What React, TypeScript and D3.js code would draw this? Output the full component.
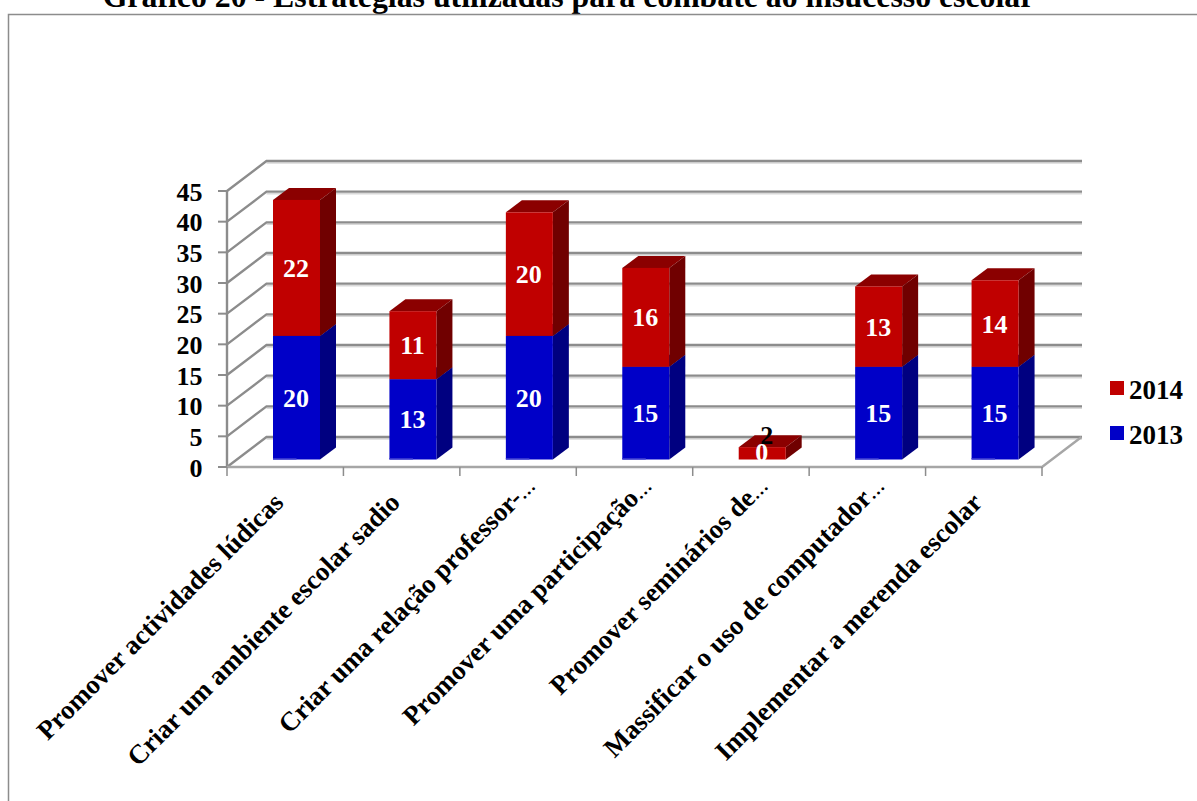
import React from "react";
import * as d3 from "d3";

const categories = [
  "Promover actividades lúdicas",
  "Criar um ambiente escolar sadio",
  "Criar uma relação professor-…",
  "Promover uma participação…",
  "Promover seminários de…",
  "Massificar o uso de computador…",
  "Implementar a merenda escolar",
];
const values2013 = [20, 13, 20, 15, 0, 15, 15];
const values2014 = [22, 11, 20, 16, 2, 13, 14];
const yTicks = [0, 5, 10, 15, 20, 25, 30, 35, 40, 45];
const legendItems = [
  { name: "2014", color: "#C00000" },
  { name: "2013", color: "#0000C8" },
];
const titleText = "Gráfico 20 - Estratégias utilizadas para combate ao insucesso escolar";

const W = 1197;
const H = 801;
const font = "'Liberation Serif', serif";
const GRID = "#8C8C8C";
const DX = 39.5;
const DY = -30;
const BAR_W = 47;
const BAR_DX = 16;
const BAR_DY = -12;

const x = d3.scaleLinear().domain([0, categories.length]).range([227, 1042]);
const y = d3.scaleLinear().domain([0, 45]).range([467, 191]);
const yBar = d3.scaleLinear().domain([0, 45]).range([459.5, 181.4]);

const pts = (p: number[][]) => p.map((a) => a.join(",")).join(" ");

function Box({ x0, y0, y1, front, top, side }: any) {
  const x1 = x0 + BAR_W;
  return (
    <g>
      <polygon points={pts([[x0, y1], [x0 + BAR_DX, y1 + BAR_DY], [x1 + BAR_DX, y1 + BAR_DY], [x1, y1]])} fill={top} />
      <polygon points={pts([[x1, y0], [x1 + BAR_DX, y0 + BAR_DY], [x1 + BAR_DX, y1 + BAR_DY], [x1, y1]])} fill={side} />
      <rect x={x0} y={y1} width={BAR_W} height={y0 - y1} fill={front} />
    </g>
  );
}

export default function App() {
  return (
    <svg width={W} height={H} viewBox={`0 0 ${W} ${H}`} style={{ position: "absolute", left: 0, top: 0, background: "#fff" }}>
      <text x={568.5} y={7} textAnchor="middle" fontFamily={font} fontWeight="bold" fontSize={31.8}>{titleText}</text>
      <path d={`M8.5,${H}V14.5H${W}`} fill="none" stroke="#8C8C8C" strokeWidth={1.5} />

      {/* walls */}
      {yTicks.map((t) => (
        <g key={t}>
          <path d={`M${x(0) + DX},${y(t) + DY + 2}H1082`} stroke="#D9D9D9" strokeWidth={1.5} fill="none" />
          <path d={`M${x(0)},${y(t)}L${x(0) + DX},${y(t) + DY}H1082`} stroke={GRID} strokeWidth={2.4} fill="none" />
          <path d={`M${x(0) - 9},${y(t)}H${x(0)}`} stroke={GRID} strokeWidth={2} fill="none" />
          <text x={202.5} y={y(t) + 9.5} textAnchor="end" fontFamily={font} fontWeight="bold" fontSize={26}>{t}</text>
        </g>
      ))}
      <path d={`M${x(0)},${y(0)}V${y(45)}`} stroke={GRID} strokeWidth={2.4} fill="none" />
      <path d={`M${x(0)},${y(0)}H${x(7)}L${x(7) + DX},${y(0) + DY}`} stroke="#A6A6A6" strokeWidth={2.4} fill="none" />
      {categories.map((_, i) => (
        <path key={i} d={`M${x(i)},${y(0)}v9`} stroke={GRID} strokeWidth={1.5} />
      ))}
      <path d={`M${x(7)},${y(0)}v9`} stroke={GRID} strokeWidth={1.5} />

      {/* bars */}
      {categories.map((_, i) => {
        const x0 = x(i) + 46;
        const a = values2013[i];
        const b = values2014[i];
        return (
          <g key={i}>
            {a > 0 && <Box x0={x0} y0={yBar(0)} y1={yBar(a)} front="#0000C8" top="#00008B" side="#000080" />}
            <Box x0={x0} y0={yBar(a)} y1={yBar(a + b)} front="#C00000" top="#8B0000" side="#700000" />
            {a > 0 && <rect x={x0} y={yBar(0) - 1.5} width={BAR_W / 2} height={1.5} fill="#3333D0" />}
          </g>
        );
      })}

      {/* labels */}
      {categories.map((_, i) => {
        const cx = x(i) + 46 + BAR_W / 2 - 0.5;
        const a = values2013[i];
        const b = values2014[i];
        const big = { fontFamily: font, fontWeight: "bold", fontSize: 26, textAnchor: "middle" } as const;
        if (a === 0) {
          return (
            <g key={i}>
              <text {...big} x={cx} y={461} fill="#fff">{a}</text>
              <text {...big} x={cx + 5} y={444} fill="#000">{b}</text>
            </g>
          );
        }
        return (
          <g key={i}>
            <text {...big} x={cx} y={(yBar(0) + yBar(a)) / 2 + 9} fill="#fff">{a}</text>
            <text {...big} x={cx} y={(yBar(a) + yBar(a + b)) / 2 + 9} fill="#fff">{b}</text>
          </g>
        );
      })}

      {/* category labels */}
      {categories.map((c, i) => {
        const cut = c.endsWith("…");
        const tx = x(i) + 58 + (cut ? 18.6 : 0);
        const ty = cut ? 487.4 : 504;
        return (
          <text key={c} transform={`translate(${tx},${ty}) rotate(-45)`} textAnchor="end" fontFamily={font} fontWeight="bold" fontSize={26.8}>
            {cut ? c.slice(0, -1) : c}
            {cut && <tspan fontSize={18}>…</tspan>}
          </text>
        );
      })}

      {/* legend */}
      {legendItems.map((l, i) => (
        <g key={l.name}>
          <rect x={1110} y={381 + i * 45} width={14} height={14} fill={l.color} />
          <text x={1129} y={399 + i * 45} fontFamily={font} fontWeight="bold" fontSize={27}>{l.name}</text>
        </g>
      ))}
    </svg>
  );
}
